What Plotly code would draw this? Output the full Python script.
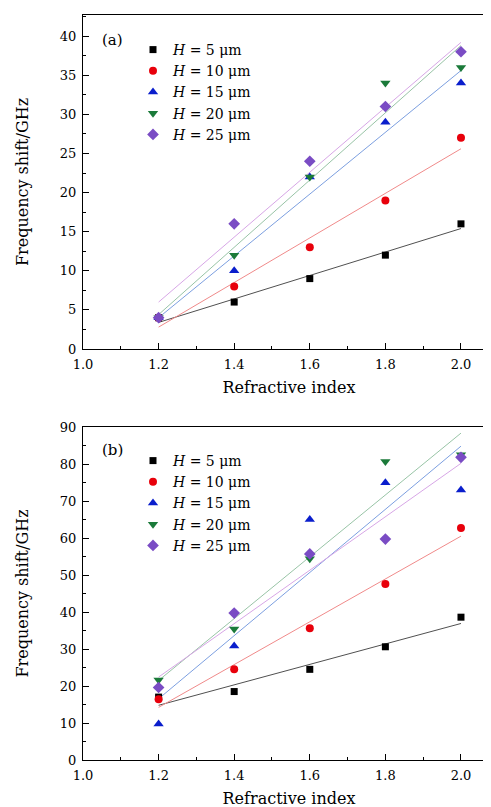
import numpy as np
import plotly.graph_objects as go

# ---------------- data ----------------
refractive_index = [1.2, 1.4, 1.6, 1.8, 2.0]
series_names = ["<i>H</i> = 5 μm", "<i>H</i> = 10 μm", "<i>H</i> = 15 μm",
                "<i>H</i> = 20 μm", "<i>H</i> = 25 μm"]

# panel (a)
a_h5 = [4, 6, 9, 12, 16]
a_h10 = [4, 8, 13, 19, 27]
a_h15 = [4, 10, 22, 29, 34]
a_h20 = [4, 12, 22, 34, 36]
a_h25 = [4, 16, 24, 31, 38]

# panel (b)
b_h5 = [17, 18.5, 24.5, 30.6, 38.6]
b_h10 = [16.4, 24.5, 35.6, 47.6, 62.7]
b_h15 = [9.7, 30.8, 65, 74.9, 73]
b_h20 = [21.6, 35.4, 54.4, 80.7, 82.5]
b_h25 = [19.6, 39.7, 55.7, 59.7, 81.8]

x_ticks = [1.0, 1.2, 1.4, 1.6, 1.8, 2.0]

# ---------------- styles ----------------
marker_colors = ["#000000", "#e8000b", "#0a1ecc", "#1b7a3a", "#7a4cc4"]
line_colors = ["#505050", "#f08a8a", "#7c9fe0", "#98c4a6", "#d7a6e6"]
symbols = ["square", "circle", "triangle-up", "triangle-down", "diamond"]
sizes = [7, 8, 9, 9, 9]
FONT = "DejaVu Serif"

fig = go.Figure()

panels = [
    ([a_h5, a_h10, a_h15, a_h20, a_h25], "x", "y", "legend"),
    ([b_h5, b_h10, b_h15, b_h20, b_h25], "x2", "y2", "legend2"),
]

xs = np.array(refractive_index)
for series, xa, ya, leg in panels:
    # linear fit lines first (drawn below the markers)
    for i, ys in enumerate(series):
        k, b = np.polyfit(xs, np.array(ys, dtype=float), 1)
        xf = np.array([xs[0], xs[-1]])
        fig.add_trace(go.Scatter(
            x=xf, y=k * xf + b, mode="lines",
            line=dict(color=line_colors[i], width=1),
            showlegend=False, hoverinfo="skip", xaxis=xa, yaxis=ya))
    for i, ys in enumerate(series):
        fig.add_trace(go.Scatter(
            x=refractive_index, y=ys, mode="markers", name=series_names[i],
            marker=dict(symbol=symbols[i], color=marker_colors[i], size=sizes[i],
                        line=dict(width=0)),
            legend=leg, xaxis=xa, yaxis=ya))

W, H = 491, 807
xdom = [75 / W, 487 / W]
ya_dom = [1 - 341 / H, 1 - 7 / H]
yb_dom = [1 - 752 / H, 1 - 419 / H]

axis_common = dict(
    showline=True, linecolor="black", linewidth=1, mirror=True,
    ticks="inside", ticklen=6, tickwidth=1, tickcolor="black",
    showgrid=False, zeroline=False, automargin=False,
    tickfont=dict(family=FONT, size=13, color="black"),
)

def xaxis(anchor):
    return dict(axis_common, domain=xdom, range=[1.0, 2.09], anchor=anchor,
                tickvals=x_ticks, tickformat=".1f", ticklabelstandoff=3,
                minor=dict(ticks="inside", ticklen=3, tickwidth=1,
                           tickcolor="black", tick0=1.1, dtick=0.2, showgrid=False),
                title=dict(text="Refractive index", standoff=11,
                           font=dict(family=FONT, size=16, color="black")))

def yaxis(anchor, dom, rng, dt):
    return dict(axis_common, domain=dom, range=rng, anchor=anchor,
                tick0=0, dtick=dt, ticklabelstandoff=3,
                minor=dict(ticks="inside", ticklen=3, tickwidth=1,
                           tickcolor="black", tick0=0, dtick=dt / 2, showgrid=False),
                title=dict(text="Frequency shift/GHz", standoff=27,
                           font=dict(family=FONT, size=16, color="black")))

legend_common = dict(
    bgcolor="rgba(0,0,0,0)", borderwidth=0,
    font=dict(family=FONT, size=14, color="black"),
    xanchor="left", yanchor="top", tracegroupgap=0,
)

fig.update_layout(
    width=W, height=H,
    margin=dict(l=0, r=0, t=0, b=0),
    paper_bgcolor="white", plot_bgcolor="white",
    xaxis=xaxis("y"),
    yaxis=yaxis("x", ya_dom, [0, 42.7], 5),
    xaxis2=xaxis("y2"),
    yaxis2=yaxis("x2", yb_dom, [0, 90], 10),
    legend=dict(legend_common, x=125 / W, y=1 - 26 / H),
    legend2=dict(legend_common, x=125 / W, y=1 - 437 / H),
    annotations=[
        dict(text="(a)", x=92 / W, y=1 - 32 / H, xref="paper", yref="paper",
             xanchor="left", yanchor="middle", showarrow=False,
             font=dict(family=FONT, size=15, color="black")),
        dict(text="(b)", x=92 / W, y=1 - 442 / H, xref="paper", yref="paper",
             xanchor="left", yanchor="middle", showarrow=False,
             font=dict(family=FONT, size=15, color="black")),
    ],
)

fig.write_html("out.html")
